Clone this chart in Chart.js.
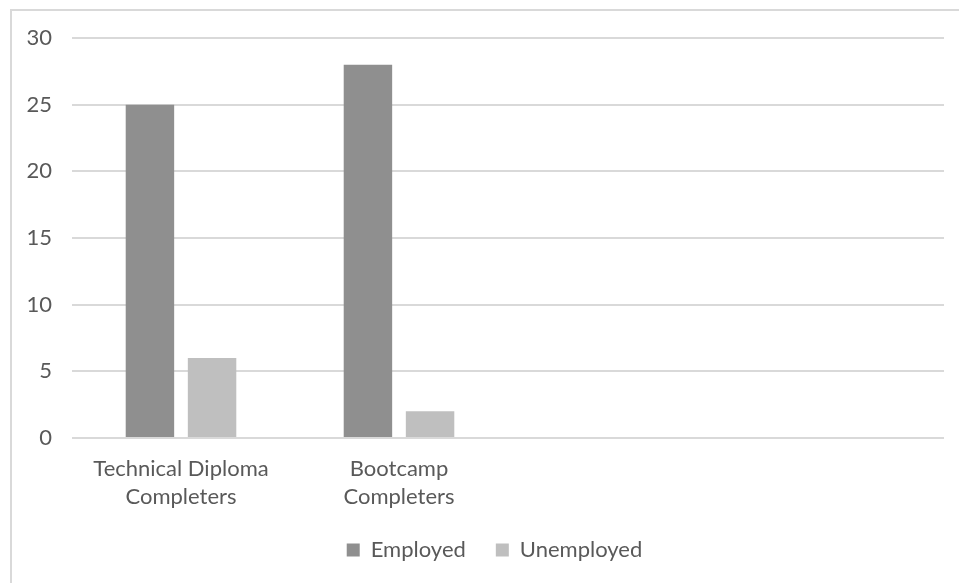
<!DOCTYPE html>
<html>
<head>
<meta charset="utf-8">
<script src="https://cdn.jsdelivr.net/npm/chart.js@4/dist/chart.umd.min.js"></script>
<style>
  html, body { margin: 0; padding: 0; background: #fff; }
  #wrap { position: relative; width: 959px; height: 583px; }
</style>
</head>
<body>
<div id="wrap"><canvas id="chart" width="959" height="583"></canvas></div>
<script>
// categories (the last two slots are left empty)
const categories = [['Technical Diploma', 'Completers'], ['Bootcamp', 'Completers'], '', ''];
const employed = [25, 28, null, null];
const unemployed = [6, 2, null, null];
const yTicks = [0, 5, 10, 15, 20, 25, 30];

const textColor = '#595959';
const gridColor = '#d9d9d9';
const fontFamily = 'Lato, "Noto Sans", sans-serif';

// light frame around the chart, and nudge the legend row a little right
const framePlugin = {
  id: 'frame',
  afterLayout(chart) {
    if (chart.legend) {
      chart.legend.left += 16;
      chart.legend.right += 16;
    }
  },
  beforeDraw(chart) {
    const c = chart.ctx;
    c.save();
    c.strokeStyle = gridColor;
    c.lineWidth = 2;
    c.strokeRect(11, 10, chart.width + 10, chart.height + 10);
    c.restore();
  }
};

const ctx = document.getElementById('chart').getContext('2d');
new Chart(ctx, {
  type: 'bar',
  data: {
    labels: categories,
    datasets: [
      {
        label: 'Employed',
        data: employed,
        backgroundColor: '#8f8f8f',
        categoryPercentage: 0.57,
        barPercentage: 0.78
      },
      {
        label: 'Unemployed',
        data: unemployed,
        backgroundColor: '#bfbfbf',
        categoryPercentage: 0.57,
        barPercentage: 0.78
      }
    ]
  },
  options: {
    responsive: false,
    animation: false,
    layout: { padding: { top: 38, left: 13, right: 15, bottom: 12 } },
    plugins: {
      legend: {
        position: 'bottom',
        labels: {
          color: textColor,
          font: { family: fontFamily, size: 22 },
          boxWidth: 13,
          boxHeight: 13,
          padding: 30
        }
      },
      tooltip: { enabled: false }
    },
    scales: {
      x: {
        grid: { display: false, drawTicks: false },
        border: { display: false },
        ticks: {
          color: textColor,
          font: { family: fontFamily, size: 22, lineHeight: 1.27 },
          padding: 17,
          maxRotation: 0,
          autoSkip: false
        },
        afterFit(scale) { scale.height = 71; }
      },
      y: {
        min: 0,
        max: 30,
        afterBuildTicks(scale) { scale.ticks = yTicks.map(v => ({ value: v })); },
        grid: { color: gridColor, lineWidth: 2, drawTicks: false },
        border: { display: false },
        ticks: {
          color: textColor,
          font: { family: fontFamily, size: 22 },
          padding: 20
        },
        afterFit(scale) { scale.width = 59; }
      }
    }
  },
  plugins: [framePlugin]
});
</script>
</body>
</html>
